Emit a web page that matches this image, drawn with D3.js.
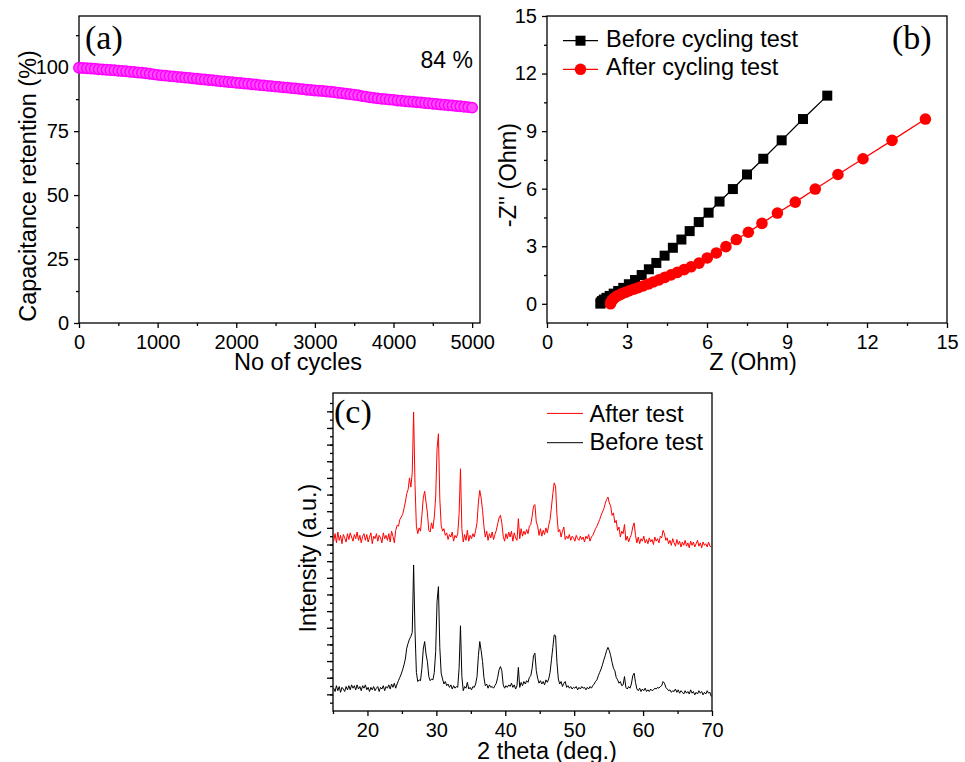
<!DOCTYPE html>
<html>
<head>
<meta charset="utf-8">
<script src="https://cdn.jsdelivr.net/npm/d3@7"></script>
<style>
body { margin: 0; background: #fff; }
svg { display: block; }
</style>
</head>
<body>
<svg id="fig" width="965" height="762"></svg>
<script>
const FONT = '"Liberation Sans", Arial, sans-serif'
const SERIF = '"Liberation Serif", "Times New Roman", serif'

// (a) capacitance retention, one value every 50 cycles
const cycleStep = 50
const retention = [
	99.8, 99.7, 99.6, 99.5, 99.4, 99.2, 99.1, 99.0, 98.9, 98.8,
	98.6, 98.5, 98.4, 98.2, 98.1, 97.9, 97.8, 97.6, 97.4, 97.2,
	97.0, 96.8, 96.7, 96.5, 96.4, 96.2, 96.1, 95.9, 95.8, 95.6,
	95.5, 95.3, 95.2, 95.0, 94.9, 94.7, 94.5, 94.4, 94.2, 94.1,
	93.9, 93.8, 93.6, 93.5, 93.3, 93.2, 93.0, 92.9, 92.7, 92.6,
	92.4, 92.3, 92.1, 92.0, 91.8, 91.7, 91.5, 91.4, 91.2, 91.1,
	90.9, 90.8, 90.7, 90.5, 90.4, 90.2, 90.0, 89.8, 89.6, 89.4,
	89.2, 89.0, 88.7, 88.5, 88.2, 88.0, 87.8, 87.6, 87.5, 87.3,
	87.2, 87.0, 86.9, 86.7, 86.6, 86.5, 86.3, 86.2, 86.0, 85.9,
	85.7, 85.6, 85.4, 85.3, 85.1, 85.0, 84.8, 84.7, 84.5, 84.4,
	84.2
]
const cycleTicks = [0, 1000, 2000, 3000, 4000, 5000]
const cycleMinor = [500, 1500, 2500, 3500, 4500]
const retTicks = [0, 25, 50, 75, 100]
const retMinor = [12.5, 37.5, 62.5, 87.5, 112.5]

// (b) Nyquist plot
const beforeRe = [2.00, 2.02, 2.06, 2.13, 2.23, 2.35, 2.50, 2.67, 2.86, 3.07, 3.30, 3.55, 3.82, 4.10,
	4.41, 4.72, 5.04, 5.35, 5.69, 6.06, 6.47, 6.97, 7.50, 8.11, 8.80, 9.60, 10.51]
const beforeIm = [0.01, 0.07, 0.14, 0.22, 0.31, 0.41, 0.53, 0.67, 0.83, 1.02, 1.24, 1.50, 1.80, 2.13,
	2.51, 2.92, 3.35, 3.79, 4.26, 4.75, 5.33, 5.98, 6.74, 7.56, 8.52, 9.63, 10.85]
const afterRe = [2.38, 2.40, 2.44, 2.50, 2.58, 2.68, 2.80, 2.94, 3.09, 3.25, 3.42, 3.60, 3.79, 3.99,
	4.20, 4.42, 4.65, 4.89, 5.14, 5.40, 5.70, 6.01, 6.35, 6.71, 7.10, 7.55, 8.06, 8.64, 9.31, 10.06,
	10.91, 11.85, 12.94, 14.19]
const afterIm = [0.00, 0.09, 0.18, 0.27, 0.36, 0.44, 0.52, 0.60, 0.68, 0.76, 0.84, 0.93, 1.03, 1.14,
	1.25, 1.38, 1.51, 1.64, 1.78, 1.93, 2.12, 2.39, 2.65, 2.98, 3.35, 3.73, 4.19, 4.73, 5.30, 5.98,
	6.74, 7.56, 8.52, 9.63]
const zTicks = [0, 3, 6, 9, 12, 15]
const zMinor = [1.5, 4.5, 7.5, 10.5, 13.5]

// (c) XRD, 2 theta from 15.1 in 0.2 deg steps (intensity in a.u. above each baseline)
const thetaStart = 15.1
const thetaStep = 0.2
const xrdBefore = [
	0.1, -0.3, 0.4, -0.2, 0.3, -0.4, 0.2, 0.0, -0.3, 0.3,
	-0.1, 0.4, -0.1, 0.5, 0.1, 0.4, -0.1, 0.5, 0.0, 0.3,
	-0.2, 0.4, 0.1, 0.5, -0.1, 0.2, -0.3, 0.2, -0.1, 0.3,
	-0.2, 0.1, 0.3, -0.3, 0.2, 0.0, 0.4, -0.2, 0.3, 0.1,
	0.5, 0.0, 0.6, 0.2, 0.7, 0.1, 0.6, 1.0, 1.4, 1.8,
	2.3, 2.9, 3.6, 4.9, 5.5, 6.0, 6.3, 6.8, 14.9, 7.0,
	2.0, 0.9, 1.1, 1.0, 2.5, 4.8, 5.7, 4.2, 3.3, 1.5,
	1.0, 1.2, 1.1, 2.0, 4.5, 10.5, 12.3, 5.0, 1.9, 1.2,
	0.6, 0.9, 0.4, 0.6, 0.2, 0.5, 0.0, 0.4, 0.1, 0.3,
	0.2, 2.5, 7.6, 1.5, -0.2, 0.3, 0.1, 0.8, 0.0, 0.2,
	-0.1, 0.3, 0.2, 0.6, 1.5, 4.0, 5.7, 4.6, 3.3, 1.4,
	0.4, 0.6, 0.1, 0.5, 0.2, 0.3, 0.1, 0.4, 0.7, 1.4,
	2.3, 2.7, 2.2, 0.5, 0.1, 0.4, 0.2, 0.5, 0.3, 0.7,
	0.2, 0.5, 0.0, 0.4, 2.6, 0.2, 0.8, 0.4, 0.9, 0.6,
	1.0, 0.8, 1.4, 1.6, 2.5, 4.0, 4.3, 2.2, 1.3, 0.7,
	1.0, 0.6, 0.9, 0.5, 1.1, 0.8, 1.2, 2.0, 3.5, 5.0,
	6.5, 6.4, 3.2, 1.2, 0.6, 0.9, 0.3, 0.7, 0.9, 0.2,
	0.4, 0.1, 0.3, 0.0, 0.2, 0.1, 0.3, -0.1, 0.2, 0.0,
	0.3, 0.1, 0.2, -0.1, 0.2, 0.0, 0.3, 0.1, 0.4, 0.6,
	0.9, 1.1, 1.6, 2.0, 2.4, 2.9, 3.5, 4.0, 4.6, 5.0,
	4.6, 4.0, 3.2, 2.5, 2.2, 1.4, 1.1, 0.7, 0.9, 0.4,
	0.5, 1.5, 0.2, 0.0, 0.3, 0.1, 0.6, 1.6, 1.9, 0.8,
	0.0, -0.2, 0.1, -0.3, 0.0, -0.2, 0.1, -0.3, -0.1, -0.3,
	0.0, -0.2, -0.1, 0.1, 0.0, 0.2, 0.1, 0.3, 0.4, 0.9,
	0.7, 0.2, 0.0, -0.2, -0.1, -0.4, -0.2, -0.3, 0.0, -0.4,
	-0.1, -0.5, -0.2, -0.4, -0.6, -0.2, -0.5, -0.3, -0.6, -0.1,
	-0.5, -0.3, -0.7, -0.4, -0.6, -0.2, -0.5, -0.3, -0.7, -0.4,
	-0.6, -0.2, -0.5, -0.4, -0.9
]
const xrdAfter = [
	-0.3, 0.6, -0.5, 0.8, -0.2, 0.4, -0.6, 0.5, 0.1, -0.4,
	0.6, -0.1, 0.7, 0.2, -0.3, 0.5, 0.0, 0.8, -0.2, 0.4,
	-0.5, 0.3, 0.6, -0.2, 0.5, -0.4, 0.2, 0.7, -0.6, 0.3,
	0.0, 0.6, -0.3, 0.4, 0.1, -0.5, 0.7, 0.0, 0.4, -0.2,
	0.6, -0.4, 0.9, 0.3, -0.5, 1.0, 1.6, 1.5, 2.3, 2.6,
	2.9, 3.6, 4.4, 5.4, 5.9, 7.3, 6.2, 7.9, 15.2, 6.5,
	1.5, 0.6, 1.3, 0.9, 2.8, 4.9, 5.7, 4.4, 3.1, 1.0,
	0.8, 1.9, 1.2, 2.6, 5.0, 10.8, 12.6, 4.8, 1.6, 0.9,
	1.2, 0.4, 0.7, -0.1, 0.5, 0.2, 0.8, -0.3, 0.4, 0.1,
	0.6, 3.0, 8.4, 1.2, -0.4, 0.5, -0.2, 1.0, -0.3, 0.4,
	0.0, 0.6, 0.2, 1.0, 1.9, 4.4, 5.8, 4.9, 3.4, 1.5,
	0.2, 0.9, -0.2, 0.6, 0.1, 0.8, -0.1, 0.5, 1.0, 1.8,
	2.5, 2.8, 1.9, 0.3, -0.3, 0.6, 0.0, 0.8, 0.2, 0.9,
	-0.3, 0.7, 0.1, -0.2, 2.4, 0.0, 1.2, 0.3, 0.9, 0.5,
	1.1, 0.6, 1.5, 1.7, 2.7, 3.9, 4.1, 2.0, 1.5, 0.4,
	1.2, 0.3, 1.0, 0.5, 1.3, 0.7, 1.6, 2.3, 3.8, 5.4,
	6.7, 6.3, 2.8, 0.8, 1.1, 0.2, 0.9, 1.4, -0.1, 0.3,
	0.0, 0.5, -0.2, 0.3, 0.1, -0.3, 0.4, 0.0, -0.2, 0.3,
	-0.1, 0.2, -0.4, 0.3, 0.0, 0.5, -0.3, 0.2, 0.4, 0.8,
	1.2, 1.5, 1.9, 2.3, 2.8, 3.2, 3.6, 4.2, 4.7, 5.0,
	4.3, 3.9, 2.8, 3.1, 1.9, 2.2, 1.0, 1.4, 0.2, 0.9,
	0.6, 1.7, -0.2, 0.3, -0.4, 0.1, 0.5, 1.4, 1.9, 0.4,
	-0.5, 0.2, -0.6, 0.0, -0.3, 0.3, -0.5, -0.1, -0.6, 0.1,
	-0.4, -0.1, -0.7, 0.2, -0.3, 0.0, -0.5, 0.3, 0.1, 1.0,
	0.6, -0.2, 0.1, -0.6, -0.2, -0.8, 0.0, -0.5, -0.9, -0.1,
	-0.7, -0.3, -1.0, -0.4, -0.8, -0.2, -0.9, -0.5, -1.1, -0.3,
	-0.8, -0.4, -1.0, -0.6, -0.2, -0.9, -0.5, -1.1, -0.4, -0.8,
	-0.6, -1.0, -0.4, -0.9, -1.0
]
const beforeOffset = 2.64
const afterOffset = 20.7
const thetaTicks = [20, 30, 40, 50, 60, 70]
const thetaMinor = [15, 25, 35, 45, 55, 65]

const svg = d3.select('#fig')

function styleAxis(g) {
	g.select('.domain').remove()
	g.attr('font-size', 20).attr('font-family', FONT)
	g.selectAll('line').attr('stroke', '#000').attr('stroke-width', 1.3)
	g.selectAll('text').attr('fill', '#000')
}

function drawAxes(x, y, o) {
	const [xl, xr] = x.range()
	const [yb, yt] = y.range()
	svg.append('g')
		.attr('transform', `translate(0,${yb})`)
		.call(d3.axisBottom(x).tickValues(o.xMinor).tickSize(3).tickFormat(''))
		.call(styleAxis)
	svg.append('g')
		.attr('transform', `translate(0,${yb})`)
		.call(d3.axisBottom(x).tickValues(o.xTicks).tickSize(5).tickPadding(7).tickFormat(d3.format('d')))
		.call(styleAxis)
	svg.append('g')
		.attr('transform', `translate(${xl},0)`)
		.call(d3.axisLeft(y).tickValues(o.yMinor).tickSize(3).tickFormat(''))
		.call(styleAxis)
	if (o.yTicks) {
		svg.append('g')
			.attr('transform', `translate(${xl},0)`)
			.call(d3.axisLeft(y).tickValues(o.yTicks).tickSize(5).tickPadding(5).tickFormat(d3.format('d')))
			.call(styleAxis)
	}
	svg.append('rect')
		.attr('x', xl).attr('y', yt)
		.attr('width', xr - xl).attr('height', yb - yt)
		.attr('fill', 'none').attr('stroke', '#000').attr('stroke-width', 1.3)
}

function label(x, y, txt, opts = {}) {
	const t = svg.append('text')
		.attr('font-family', opts.serif ? SERIF : FONT)
		.attr('font-size', opts.size || 23.5)
		.attr('text-anchor', opts.anchor || 'middle')
		.attr('fill', '#000')
		.text(txt)
	if (opts.rotate) t.attr('transform', `translate(${x},${y}) rotate(-90)`)
	else t.attr('x', x).attr('y', y)
	return t
}

// ---- (a)
const xa = d3.scaleLinear().domain([0, 5100]).range([79, 480])
const ya = d3.scaleLinear().domain([0, 120]).range([323, 16])
drawAxes(xa, ya, { xTicks: cycleTicks, xMinor: cycleMinor, yTicks: retTicks, yMinor: retMinor })

svg.append('g')
	.selectAll('circle')
	.data(retention)
	.join('circle')
	.attr('cx', (d, i) => xa(i * cycleStep))
	.attr('cy', d => ya(d))
	.attr('r', 5.2)
	.attr('fill', '#ff4dff')
	.attr('stroke', '#ff00ff')
	.attr('stroke-width', 1.5)

label(85, 49, '(a)', { serif: true, size: 34, anchor: 'start' })
label(473, 68, '84 %', { size: 23, anchor: 'end' })
label(298, 370, 'No of cycles')
label(36, 186, 'Capacitance retention (%)', { rotate: true })

// ---- (b)
const xb = d3.scaleLinear().domain([0, 15]).range([547, 947])
const yb = d3.scaleLinear().domain([-1, 15]).range([323, 16])
drawAxes(xb, yb, { xTicks: zTicks, xMinor: zMinor, yTicks: zTicks, yMinor: zMinor })

const nyq = d3.line().x(d => xb(d[0])).y(d => yb(d[1]))
const beforePts = beforeRe.map((d, i) => [d, beforeIm[i]])
const afterPts = afterRe.map((d, i) => [d, afterIm[i]])

svg.append('path').attr('d', nyq(beforePts)).attr('fill', 'none').attr('stroke', '#000').attr('stroke-width', 1.3)
svg.append('g').selectAll('rect')
	.data(beforePts)
	.join('rect')
	.attr('x', d => xb(d[0]) - 5)
	.attr('y', d => yb(d[1]) - 5)
	.attr('width', 10).attr('height', 10)
	.attr('fill', '#000')

svg.append('path').attr('d', nyq(afterPts)).attr('fill', 'none').attr('stroke', '#ff0000').attr('stroke-width', 1.3)
svg.append('g').selectAll('circle')
	.data(afterPts)
	.join('circle')
	.attr('cx', d => xb(d[0]))
	.attr('cy', d => yb(d[1]))
	.attr('r', 5.8)
	.attr('fill', '#ff0000')

// legend (b)
svg.append('line').attr('x1', 563).attr('x2', 598).attr('y1', 40.7).attr('y2', 40.7).attr('stroke', '#000').attr('stroke-width', 1.3)
svg.append('rect').attr('x', 575.5).attr('y', 35.7).attr('width', 10).attr('height', 10).attr('fill', '#000')
svg.append('line').attr('x1', 563).attr('x2', 598).attr('y1', 69.3).attr('y2', 69.3).attr('stroke', '#ff0000').attr('stroke-width', 1.3)
svg.append('circle').attr('cx', 580.5).attr('cy', 69.3).attr('r', 5.8).attr('fill', '#ff0000')
label(606, 46.5, 'Before cycling test', { anchor: 'start' })
label(606, 75, 'After cycling test', { anchor: 'start' })

label(892, 49, '(b)', { serif: true, size: 34, anchor: 'start' })
label(753, 370, 'Z (Ohm)')
label(516, 175, "-Z'' (Ohm)", { rotate: true })

// ---- (c)
const xc = d3.scaleLinear().domain([15, 70]).range([333, 712])
const yc = d3.scaleLinear().domain([0, 38.2]).range([711, 393])
drawAxes(xc, yc, { xTicks: thetaTicks, xMinor: thetaMinor, yMinor: d3.range(1, 38, 1) })

// longer ticks on every other intensity mark
svg.append('g')
	.attr('transform', `translate(333,0)`)
	.call(d3.axisLeft(yc).tickValues(d3.range(2, 38, 2)).tickSize(6).tickFormat(''))
	.call(styleAxis)

const xrdLine = off => d3.line()
	.x((d, i) => xc(thetaStart + i * thetaStep))
	.y(d => yc(d + off))

svg.append('path').attr('d', xrdLine(afterOffset)(xrdAfter))
	.attr('fill', 'none').attr('stroke', '#ff0000').attr('stroke-width', 1)
svg.append('path').attr('d', xrdLine(beforeOffset)(xrdBefore))
	.attr('fill', 'none').attr('stroke', '#000').attr('stroke-width', 1)

// legend (c)
svg.append('line').attr('x1', 547).attr('x2', 583).attr('y1', 413.4).attr('y2', 413.4).attr('stroke', '#ff0000').attr('stroke-width', 1)
svg.append('line').attr('x1', 547).attr('x2', 583).attr('y1', 442.7).attr('y2', 442.7).attr('stroke', '#000').attr('stroke-width', 1)
label(589.5, 421.8, 'After test', { anchor: 'start' })
label(589.5, 450, 'Before test', { anchor: 'start' })

label(334, 423, '(c)', { serif: true, size: 34, anchor: 'start' })
label(547, 759, '2 theta (deg.)')
label(316, 558, 'Intensity (a.u.)', { rotate: true })
</script>
</body>
</html>
